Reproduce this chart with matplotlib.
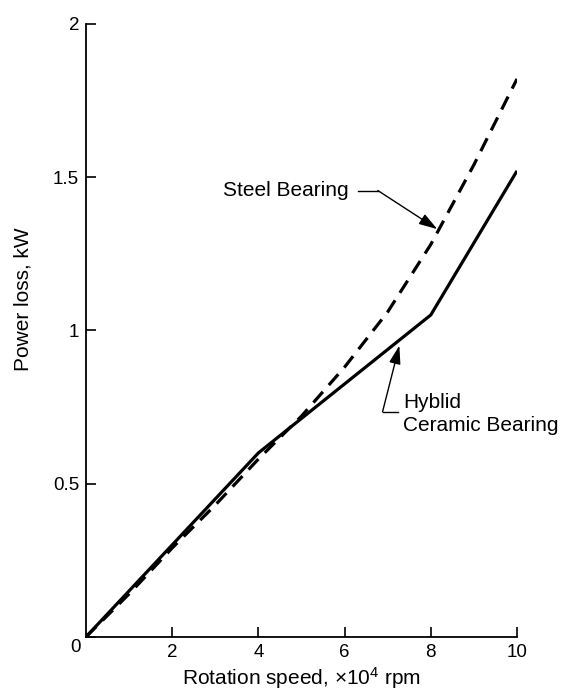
"""
Power loss versus rotation speed for steel and hybrid ceramic bearings.
"""

import matplotlib
matplotlib.use("Agg")
import matplotlib.pyplot as plt

PLOT_FILE = "out.png"

# Hyblid ceramic bearing (solid line)
CERAMIC_SPEED = [0, 4, 8, 10]
CERAMIC_LOSS = [0, 0.60, 1.05, 1.52]

# Steel bearing (dashed line)
STEEL_SPEED = [0, 1, 2, 3, 4, 5, 6, 7, 8, 9, 10]
STEEL_LOSS = [0, 0.14, 0.29, 0.43, 0.58, 0.72, 0.88, 1.06, 1.28, 1.54, 1.82]

X_TICKS = [2, 4, 6, 8, 10]
Y_TICKS = [0, 0.5, 1, 1.5, 2]
Y_TICK_LABELS = ["0", "0.5", "1", "1.5", "2"]

plt.rcParams["font.family"] = ["Liberation Sans", "DejaVu Sans"]
plt.rcParams["mathtext.fontset"] = "custom"
plt.rcParams["mathtext.rm"] = "Liberation Sans"

ARROW = dict(arrowstyle="-|>,head_length=0.7,head_width=0.22",
             color="black", lw=1, mutation_scale=16, shrinkA=0, shrinkB=0)


def plot_power_loss():
    fig = plt.figure(figsize=(5.7, 6.99), dpi=100)
    ax = fig.add_axes([0.151, 0.089, 0.756, 0.877])

    ax.plot(CERAMIC_SPEED, CERAMIC_LOSS, color="black", linewidth=2.3,
            solid_capstyle="butt")
    ax.plot(STEEL_SPEED, STEEL_LOSS, color="black", linewidth=2.3,
            linestyle=(0, (4.5, 2.8)))

    ax.set_xlim(0, 10)
    ax.set_ylim(0, 2)
    ax.set_xticks(X_TICKS)
    ax.set_yticks(Y_TICKS)
    ax.set_yticklabels(Y_TICK_LABELS)
    ax.spines["top"].set_visible(False)
    ax.spines["right"].set_visible(False)
    for side in ("left", "bottom"):
        ax.spines[side].set_linewidth(1.3)
    ax.tick_params(direction="in", length=7, width=1.2, labelsize=13.5,
                   pad=5)
    ax.text(-0.12, -0.035, "0", fontsize=13.5, ha="right", va="center")
    ax.yaxis.get_major_ticks()[0].label1.set_visible(False)

    ax.set_xlabel("Rotation speed, \u00d710$\\mathregular{^4}$ rpm",
                  fontsize=15, labelpad=3)
    ax.set_ylabel("Power loss, kW", fontsize=15)
    ax.yaxis.set_label_coords(-0.125, 0.55)

    # Steel bearing callout
    ax.text(3.17, 1.456, "Steel Bearing", fontsize=15, ha="left",
            va="center")
    ax.plot([6.3, 6.77], [1.456, 1.456], color="black", linewidth=1)
    ax.annotate("", xy=(8.15, 1.33), xytext=(6.77, 1.456), arrowprops=ARROW)

    # Hyblid ceramic bearing callout
    ax.plot([6.88, 7.25], [0.734, 0.734], color="black", linewidth=1)
    ax.annotate("", xy=(7.27, 0.95), xytext=(6.88, 0.734), arrowprops=ARROW)
    ax.text(7.36, 0.765, "Hyblid", fontsize=15, ha="left", va="center")
    ax.text(7.36, 0.69, "Ceramic Bearing", fontsize=15, ha="left",
            va="center")

    fig.savefig(PLOT_FILE, dpi=100)


if __name__ == "__main__":
    plot_power_loss()
